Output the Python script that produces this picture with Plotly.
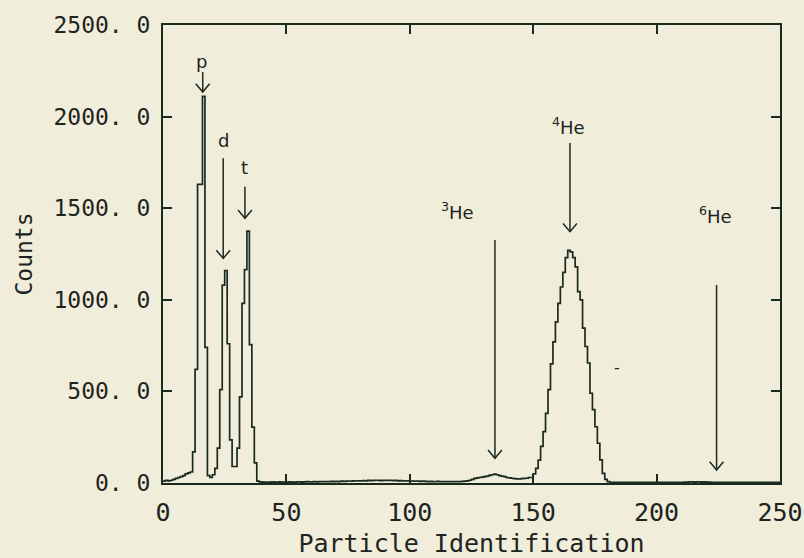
import plotly.graph_objects as go

# ---- data (bin width 1, bins start at 0) ----
counts = [
    10, 15, 12, 15, 20, 25, 30, 35, 40, 50,          # 0-9
    55, 60, 170, 620, 1630, 1630, 2110, 740, 40, 30,  # 10-19  (p)
    45, 80, 190, 510, 1080, 1160, 760, 235, 90, 90,   # 20-29  (d)
    190, 470, 980, 1165, 1375, 755, 305, 110, 10, 6,  # 30-39  (t)
    5, 5, 4, 5, 6, 5, 5, 6, 5, 5,                     # 40-49
    5, 6, 5, 5, 6, 6, 5, 6, 7, 6,                     # 50-59
    6, 7, 6, 7, 8, 7, 8, 8, 9, 8,                     # 60-69
    9, 8, 10, 9, 10, 11, 10, 12, 11, 12,              # 70-79
    12, 13, 12, 14, 13, 14, 15, 14, 13, 15,           # 80-89
    14, 15, 14, 13, 14, 12, 13, 12, 11, 12,           # 90-99
    11, 10, 11, 10, 9, 10, 9, 8, 9, 8,                # 100-109
    8, 9, 8, 7, 8, 7, 8, 7, 7, 8,                     # 110-119
    8, 9, 10, 12, 15, 20, 25, 28, 30, 32,             # 120-129 (3He)
    35, 38, 42, 45, 48, 45, 40, 38, 35, 30,           # 130-139
    28, 26, 24, 22, 22, 24, 25, 26, 30, 30,           # 140-149
    50, 80, 125, 200, 280, 380, 510, 650, 770, 880,   # 150-159 (4He)
    980, 1070, 1150, 1230, 1270, 1262, 1230, 1180, 1045, 1000,  # 160-169
    845, 745, 655, 490, 400, 307, 217, 126, 53, 20,   # 170-179
    8, 4, 4, 3, 4, 3, 3, 4, 3, 3,                     # 180-189
    3, 4, 3, 3, 4, 3, 4, 3, 3, 4,                     # 190-199
    3, 4, 4, 3, 4, 3, 4, 4, 3, 4,                     # 200-209
    4, 5, 5, 6, 6, 5, 6, 6, 5, 6,                     # 210-219
    5, 5, 4, 4, 3, 4, 3, 3, 4, 3,                     # 220-229
    3, 4, 3, 3, 3, 4, 3, 3, 3, 4,                     # 230-239
    3, 3, 4, 3, 3, 3, 3, 4, 3, 3,                     # 240-249
]
bin_edges = list(range(0, len(counts) + 1))

# arrows: label, label x, label y, arrow x, stem top, arrow tip
arrow_labels = ["p", "d", "t", "<sup>3</sup>He", "<sup>4</sup>He", "<sup>6</sup>He"]
label_x = [15.8, 24.6, 33.0, 119.5, 164.5, 224.0]
label_y = [2300, 1870, 1720, 1485, 1950, 1463]
arrow_x = [16.1, 24.4, 33.2, 134.5, 164.9, 224.3]
arrow_top = [2243, 1772, 1617, 1326, 1856, 1081]
arrow_tip = [2134, 1226, 1445, 135, 1372, 71]

x_ticks = [0, 50, 100, 150, 200, 250]
x_ticktext = ["0", "50", "100", "150", "200", "250"]
y_ticks = [0, 500, 1000, 1500, 2000, 2500]
y_ticktext = ["0. 0", "500. 0", "1000. 0", "1500. 0", "2000. 0", "2500. 0"]

INK = "#1b2a1f"
TEXT = "#202420"
PAPER = "#f0eddb"
HEAD_DX = 2.8   # arrow head half width (x units)
HEAD_DY = 45    # arrow head height (count units)

fig = go.Figure()
fig.add_trace(go.Scatter(
    x=bin_edges, y=counts + [counts[-1]],
    mode="lines", line=dict(color=INK, width=1.7, shape="hv"),
    hoverinfo="skip", showlegend=False,
))

ax, ay = [], []
for x, top, tip in zip(arrow_x, arrow_top, arrow_tip):
    ax += [x, x, None, x - HEAD_DX, x, x + HEAD_DX, None]
    ay += [top, tip, None, tip + HEAD_DY, tip, tip + HEAD_DY, None]
fig.add_trace(go.Scatter(
    x=ax, y=ay, mode="lines", line=dict(color=INK, width=1.5),
    hoverinfo="skip", showlegend=False,
))

for lab, lx, ly in zip(arrow_labels, label_x, label_y):
    fig.add_annotation(x=lx, y=ly, text=lab, showarrow=False,
                       font=dict(family="DejaVu Sans", size=18, color=TEXT),
                       xanchor="center", yanchor="middle")

# small speck visible in the reference
fig.add_annotation(x=184, y=628, text="-", showarrow=False,
                   font=dict(family="DejaVu Sans", size=16, color=INK))

axis_common = dict(
    showline=True, linecolor=INK, linewidth=2, mirror="ticks",
    ticks="inside", ticklen=9, tickwidth=2, tickcolor=INK,
    showgrid=False, zeroline=False,
)

fig.update_xaxes(range=[0, 250], tickvals=x_ticks, ticktext=x_ticktext,
                 tickfont=dict(family="DejaVu Sans Mono", size=25, color=TEXT),
                 ticklabelstandoff=6,
                 title=dict(text="Particle Identification", standoff=14,
                            font=dict(family="DejaVu Sans Mono", size=25, color=TEXT)),
                 **axis_common)
fig.update_yaxes(range=[0, 2500], tickvals=y_ticks, ticktext=y_ticktext,
                 tickfont=dict(family="DejaVu Sans Mono", size=23, color=TEXT),
                 ticklabelstandoff=6,
                 title=dict(text="Counts", standoff=14,
                            font=dict(family="DejaVu Sans Mono", size=23, color=TEXT)),
                 **axis_common)

fig.update_layout(
    width=804, height=558,
    margin=dict(l=163, r=24, t=25, b=75, autoexpand=False),
    paper_bgcolor=PAPER, plot_bgcolor=PAPER,
)

fig.write_html("out.html")
